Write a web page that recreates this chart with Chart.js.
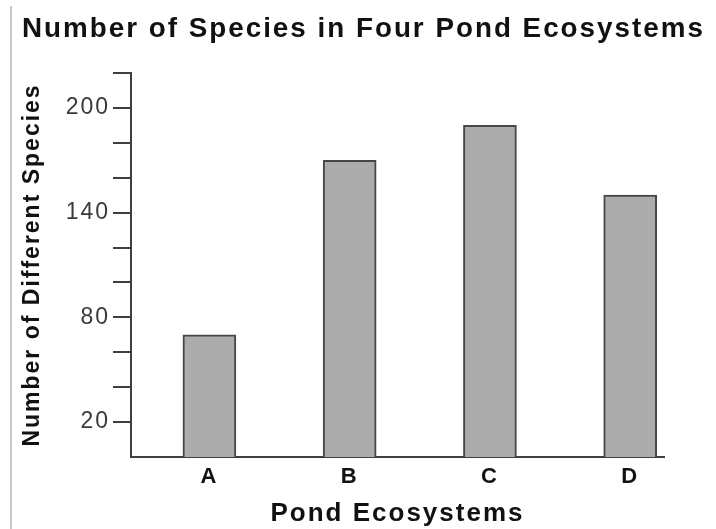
<!DOCTYPE html>
<html>
<head>
<meta charset="utf-8">
<script src="https://cdn.jsdelivr.net/npm/chart.js@4.4.1/dist/chart.umd.min.js"></script>
<style>
  html, body { margin: 0; padding: 0; background: #ffffff; }
  #wrap { position: relative; width: 716px; height: 529px; }
  #edge { position: absolute; left: 10px; top: 6px; width: 2px; height: 523px; background: #c8c8c8; }
  canvas { position: absolute; left: 0; top: 0; }
</style>
</head>
<body>
<div id="wrap">
  <div id="edge"></div>
  <canvas id="c" width="716" height="529"></canvas>
</div>
<script>
const categories = ['A', 'B', 'C', 'D'];
const speciesCounts = [70, 170, 190, 150];
const yTickValues = [20, 40, 60, 80, 100, 120, 140, 160, 180, 200, 220];
const yTickLabels = [20, 80, 140, 200];

const FONT = "'Liberation Sans', Arial, Helvetica, sans-serif";
const DARK = '#3f3f3f';

const spacingPlugin = {
  id: 'spacing',
  beforeDraw(chart) { chart.ctx.letterSpacing = '2px'; }
};

new Chart(document.getElementById('c'), {
  type: 'bar',
  data: {
    datasets: [{
      data: categories.map((c, i) => ({ x: i + 1, y: speciesCounts[i] })),
      backgroundColor: '#acacac',
      borderColor: '#474747',
      borderWidth: 2,
      barThickness: 53
    }]
  },
  options: {
    responsive: false,
    animation: false,
    layout: { padding: { left: 22, right: 0, top: 0, bottom: 0 } },
    plugins: {
      legend: { display: false },
      tooltip: { enabled: false },
      title: {
        display: true,
        text: 'Number of Species in Four Pond Ecosystems',
        align: 'start',
        color: '#111111',
        font: { family: FONT, size: 27.8, weight: 'bold', lineHeight: 1.2 },
        padding: { top: 13, bottom: 26.6 }
      }
    },
    scales: {
      x: {
        type: 'linear',
        offset: false,
        min: 0.441,
        max: 4.241,
        afterFit(scale) { scale.height = 72; },
        afterBuildTicks(scale) { scale.ticks = categories.map((c, i) => ({ value: i + 1 })); },
        grid: { display: true, offset: false, drawOnChartArea: false, drawTicks: false },
        border: { display: true, color: DARK, width: 2 },
        ticks: {
          padding: 7,
          color: '#111111',
          font: { family: FONT, size: 22, weight: 'bold' },
          callback: (v) => categories[Math.round(v) - 1] || ''
        },
        title: {
          display: true,
          text: 'Pond Ecosystems',
          color: '#111111',
          font: { family: FONT, size: 26, weight: 'bold', lineHeight: 1.2 },
          padding: { top: 0, bottom: 0 }
        }
      },
      y: {
        min: 0,
        max: 220,
        afterFit(scale) { scale.width = 109; },
        afterBuildTicks(scale) { scale.ticks = yTickValues.map(v => ({ value: v })); },
        grid: { display: true, drawOnChartArea: false, drawTicks: true, tickLength: 18, color: DARK, lineWidth: 2 },
        border: { display: true, color: DARK, width: 2 },
        ticks: {
          padding: 3,
          color: '#3a3a3a',
          font: { family: FONT, size: 23 },
          callback: (v) => yTickLabels.includes(v) ? String(v) : ''
        },
        title: {
          display: true,
          text: 'Number of Different Species',
          color: '#111111',
          font: { family: FONT, size: 23, weight: 'bold', lineHeight: 0.9 },
          padding: { top: 0, bottom: 0 }
        }
      },
      yRight: {
        position: 'right',
        display: true,
        afterFit(scale) { scale.width = 52; },
        grid: { display: false },
        border: { display: false },
        ticks: { display: false },
        title: { display: false }
      }
    }
  },
  plugins: [spacingPlugin]
});
</script>
</body>
</html>
